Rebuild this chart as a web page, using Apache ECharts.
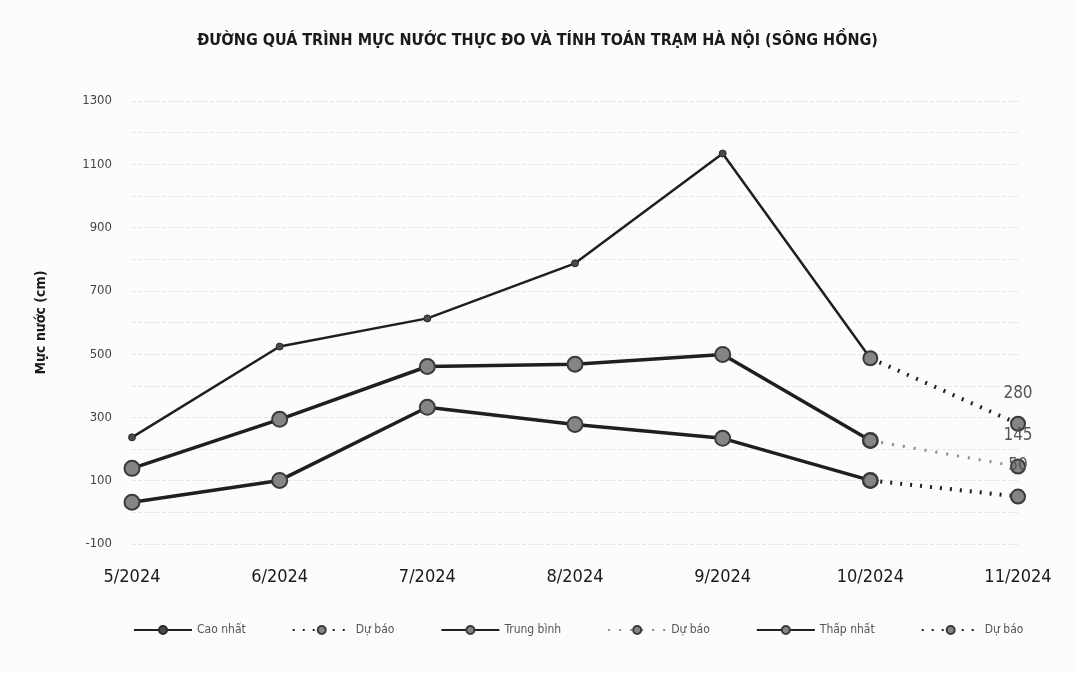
<!DOCTYPE html>
<html>
<head>
<meta charset="utf-8">
<script src="https://cdn.jsdelivr.net/npm/echarts@6/dist/echarts.min.js"></script>
<style>
  html, body { margin: 0; padding: 0; background: #fcfcfc; }
  #chart { width: 1075px; height: 673px; }
</style>
</head>
<body>
<div id="chart"></div>
<script>
const months = ['5/2024', '6/2024', '7/2024', '8/2024', '9/2024', '10/2024', '11/2024']
const caoNhat = [237, 524, 613, 787, 1134, 487, null]
const duBaoCao = [null, null, null, null, null, 487, 280]
const trungBinh = [139, 294, 461, 468, 499, 227, null]
const duBaoTB = [null, null, null, null, null, 227, 145]
const thapNhat = [32, 101, 332, 278, 234, 101, null]
const duBaoThap = [null, null, null, null, null, 101, 50]

const FONT = "'DejaVu Sans Condensed', 'Liberation Sans Narrow', 'Open Sans', sans-serif"

let myChart = echarts.init(document.getElementById('chart'))

const bigDot = {
    color: '#858585',
    borderColor: '#3a3a3a',
    borderWidth: 2
}

function lastLabel(p) {
    return p.dataIndex === months.length - 1 ? p.value : ''
}

let option = {
    backgroundColor: '#fcfcfc',
    textStyle: { fontFamily: FONT },
    title: {
        text: 'ĐƯỜNG QUÁ TRÌNH MỰC NƯỚC THỰC ĐO VÀ TÍNH TOÁN TRẠM HÀ NỘI (SÔNG HỒNG)',
        left: 'center',
        top: 28,
        textStyle: {
            fontFamily: FONT,
            fontSize: 16,
            fontWeight: 'bold',
            color: '#1a1a1a'
        }
    },
    legend: {
        bottom: 32,
        left: 128,
        itemWidth: 58,
        itemHeight: 10,
        itemGap: 46,
        textStyle: {
            fontFamily: FONT,
            fontSize: 12,
            color: '#555'
        },
        formatter: name => name.indexOf('Dự báo') === 0 ? 'Dự báo' : name
    },
    grid: {
        left: 132,
        right: 57,
        top: 101,
        bottom: 129
    },
    xAxis: {
        type: 'category',
        boundaryGap: false,
        data: months,
        axisLine: { show: false },
        axisTick: { show: false },
        axisLabel: {
            margin: 24,
            fontFamily: FONT,
            fontSize: 18,
            color: '#1a1a1a'
        }
    },
    yAxis: {
        type: 'value',
        min: -100,
        max: 1300,
        interval: 100,
        name: 'Mực nước (cm)',
        nameLocation: 'middle',
        nameGap: 84,
        nameTextStyle: {
            fontFamily: FONT,
            fontSize: 14,
            fontWeight: 'bold',
            color: '#1a1a1a'
        },
        axisLabel: {
            margin: 20,
            fontFamily: FONT,
            fontSize: 13,
            color: '#444',
            formatter: v => (Math.abs(v) % 200 === 100 ? String(v) : '')
        },
        splitLine: {
            lineStyle: { color: '#e6e6e6', type: 'dashed' }
        }
    },
    series: [
        {
            name: 'Cao nhất',
            type: 'line',
            data: caoNhat,
            symbol: 'circle',
            symbolSize: 7,
            itemStyle: { color: '#4a4a4a', borderColor: '#2a2a2a', borderWidth: 1 },
            lineStyle: { color: '#1f1f1f', width: 2.5 },
            z: 3
        },
        {
            name: 'Dự báo 1',
            type: 'line',
            data: duBaoCao,
            symbol: 'circle',
            symbolSize: 14,
            itemStyle: bigDot,
            lineStyle: { color: '#1f1f1f', width: 4, type: [2, 8] },
            label: {
                show: true,
                position: 'top',
                distance: 14,
                fontSize: 17,
                color: '#555',
                formatter: lastLabel
            },
            z: 4
        },
        {
            name: 'Trung bình',
            type: 'line',
            data: trungBinh,
            symbol: 'circle',
            symbolSize: 15,
            itemStyle: bigDot,
            lineStyle: { color: '#1f1f1f', width: 3.5 },
            z: 3
        },
        {
            name: 'Dự báo 2',
            type: 'line',
            data: duBaoTB,
            symbol: 'circle',
            symbolSize: 14,
            itemStyle: bigDot,
            lineStyle: { color: '#8a8a8a', width: 3, type: [2, 9] },
            label: {
                show: true,
                position: 'top',
                distance: 14,
                fontSize: 17,
                color: '#555',
                formatter: lastLabel
            },
            z: 4
        },
        {
            name: 'Thấp nhất',
            type: 'line',
            data: thapNhat,
            symbol: 'circle',
            symbolSize: 15,
            itemStyle: bigDot,
            lineStyle: { color: '#1f1f1f', width: 3.5 },
            z: 3
        },
        {
            name: 'Dự báo 3',
            type: 'line',
            data: duBaoThap,
            symbol: 'circle',
            symbolSize: 14,
            itemStyle: bigDot,
            lineStyle: { color: '#1f1f1f', width: 4, type: [2, 8] },
            label: {
                show: true,
                position: 'top',
                distance: 14,
                fontSize: 17,
                color: '#555',
                formatter: lastLabel
            },
            z: 4
        }
    ]
}
myChart.setOption(option)

window.addEventListener('resize', () => {
    myChart.resize()
})
</script>
</body>
</html>
